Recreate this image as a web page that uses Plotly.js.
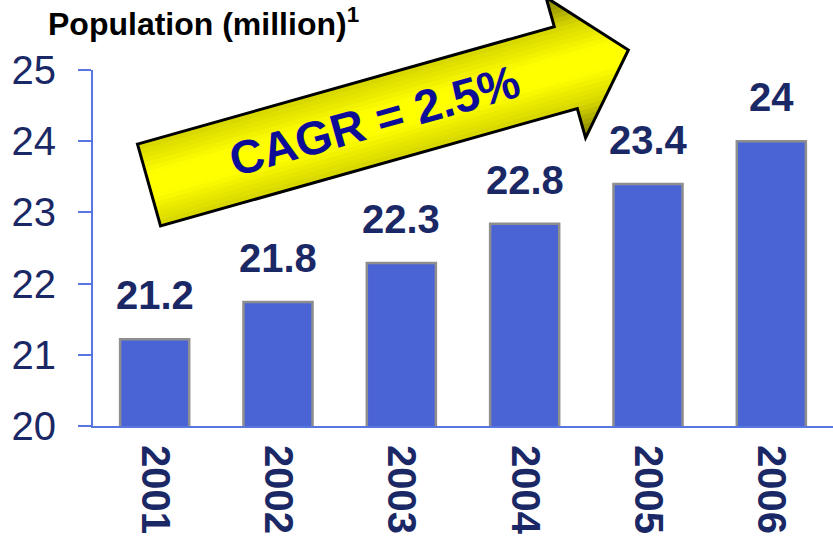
<!DOCTYPE html>
<html>
<head>
<meta charset="utf-8">
<script src="https://cdn.plot.ly/plotly-3.0.1.min.js"></script>
<style>html,body{margin:0;padding:0;background:#fff;}#chart{width:833px;height:540px;}</style>
</head>
<body>
<div id="chart"></div>
<script>
// ---- data ----
const years = ['2001', '2002', '2003', '2004', '2005', '2006'];
const population = [21.22, 21.74, 22.29, 22.84, 23.40, 24.0];
const valueLabels = ['21.2', '21.8', '22.3', '22.8', '23.4', '24'];
const yTicks = [20, 21, 22, 23, 24, 25];
const titleText = 'Population (million)';
const arrowText = 'CAGR = 2.5%';

// ---- layout geometry ----
const W = 833, H = 540;
const M = {l: 93, r: 0, t: 70, b: 114};
const plotW = W - M.l - M.r, plotH = H - M.t - M.b;
const navy = '#1b2866';
const FONT = 'Liberation Sans, Arial, Helvetica, sans-serif';

function px2paper(p) {
  return [(p[0] - M.l) / plotW, (H - M.b - p[1]) / plotH];
}

// decorative arrow in a local frame (u along arrow, v across)
const origin = [149, 185];
const ang = Math.atan2(118, 419);
const e = [Math.cos(ang), -Math.sin(ang)];
const n = [Math.sin(ang), Math.cos(ang)];
const bodyHalf = 42.5, bodyLen = 433, headHalf = 73, tipU = 498;
function loc(u, v) {
  return [origin[0] + u * e[0] + v * n[0], origin[1] + u * e[1] + v * n[1]];
}
function pathFrom(pts) {
  return pts.map((p, i) => {
    const q = px2paper(loc(p[0], p[1]));
    return (i ? 'L' : 'M') + q[0].toFixed(5) + ',' + q[1].toFixed(5);
  }).join(' ') + ' Z';
}
function bandPoly(t) {
  const uT = bodyLen + (tipU - bodyLen) * (1 - t / headHalf);
  if (t <= bodyHalf) {
    return [[0, -t], [uT, -t], [tipU, 0], [uT, t], [0, t]];
  }
  return [[0, -bodyHalf], [bodyLen, -bodyHalf], [bodyLen, -t], [uT, -t], [tipU, 0],
          [uT, t], [bodyLen, t], [bodyLen, bodyHalf], [0, bodyHalf]];
}
function lerpColor(a, b, f) {
  const c = a.map((x, i) => Math.round(x + (b[i] - x) * f));
  return 'rgb(' + c.join(',') + ')';
}
const shapes = [];
const steps = 16;
for (let i = 0; i < steps; i++) {
  const t = headHalf * (1 - i / steps);
  let col;
  if (t > bodyHalf) {
    col = lerpColor([130, 130, 0], [215, 215, 0], (headHalf - t) / (headHalf - bodyHalf));
  } else {
    const f = Math.min(1, (bodyHalf - t) / (bodyHalf * 0.7));
    col = lerpColor([215, 215, 0], [255, 255, 0], f);
  }
  shapes.push({type: 'path', xref: 'paper', yref: 'paper', path: pathFrom(bandPoly(t)),
               fillcolor: col, line: {width: 0}, layer: 'above'});
}
shapes.push({type: 'path', xref: 'paper', yref: 'paper', path: pathFrom(bandPoly(headHalf)),
             fillcolor: 'rgba(0,0,0,0)', line: {color: '#000', width: 3}, layer: 'above'});

const textCenter = px2paper([374, 121]);

const annotations = years.map((yr, i) => ({
  x: i, y: population[i], xref: 'x', yref: 'y', text: '<b>' + valueLabels[i] + '</b>',
  showarrow: false, yanchor: 'bottom', yshift: 20,
  font: {family: FONT, size: 40, color: navy}
}));
annotations.push({
  x: textCenter[0], y: textCenter[1], xref: 'paper', yref: 'paper',
  text: '<b>' + arrowText + '</b>', showarrow: false, textangle: -ang * 180 / Math.PI,
  xanchor: 'center', yanchor: 'middle',
  font: {family: FONT, size: 47, color: '#0c0c98'}
});

const trace = {
  type: 'bar', x: years, y: population, width: 0.56,
  marker: {color: '#4a64d5', line: {color: '#8e8e8e', width: 2.5}},
  hoverinfo: 'skip', cliponaxis: false
};

const layout = {
  width: W, height: H, margin: M,
  paper_bgcolor: '#fff', plot_bgcolor: '#fff', showlegend: false,
  title: {text: '<b>' + titleText + '<sup>1</sup></b>', xref: 'container', yref: 'container',
          x: 48 / W, xanchor: 'left', y: 1 - 24 / H, yanchor: 'middle',
          font: {family: FONT, size: 32, color: '#000'}},
  xaxis: {type: 'category', range: [-0.5, 5.5], showgrid: false, zeroline: false,
          showline: true, linecolor: '#5776e0', linewidth: 2, ticks: '',
          tickangle: 90, ticklabelstandoff: 9,
          tickfont: {family: FONT, size: 40, color: navy, weight: 'bold'}},
  yaxis: {range: [20, 25], tickvals: yTicks, ticktext: yTicks.map(String),
          showgrid: false, zeroline: false, showline: true, linecolor: '#5776e0', linewidth: 2,
          ticks: 'outside', ticklen: 13, tickwidth: 2, tickcolor: '#5776e0',
          ticklabelstandoff: 14,
          tickfont: {family: FONT, size: 40, color: navy}},
  shapes: shapes,
  annotations: annotations
};

Plotly.newPlot('chart', [trace], layout, {staticPlot: true, displayModeBar: false});
</script>
</body>
</html>
